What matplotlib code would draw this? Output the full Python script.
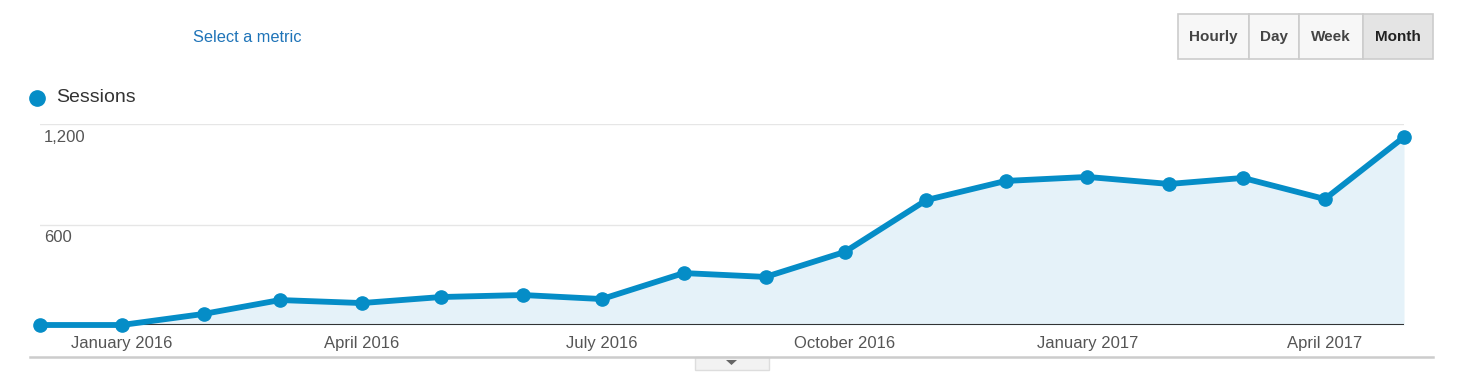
import matplotlib
matplotlib.use("Agg")
import matplotlib.pyplot as plt
import pandas as pd
import matplotlib.dates as mdates
from matplotlib.patches import Rectangle, Polygon
from matplotlib.lines import Line2D

plt.rcParams["font.family"] = ["Liberation Sans", "DejaVu Sans"]

# monthly sessions, Dec 2015 .. May 2017
months = ["2015-12", "2016-01", "2016-02", "2016-03", "2016-04", "2016-05",
          "2016-06", "2016-07", "2016-08", "2016-09", "2016-10", "2016-11",
          "2016-12", "2017-01", "2017-02", "2017-03", "2017-04", "2017-05"]
sessions = [0, 0, 66, 149, 131, 167, 179, 155, 310, 287, 436, 746,
            860, 884, 842, 878, 752, 1122]
tick_months = ["2016-01", "2016-04", "2016-07", "2016-10", "2017-01", "2017-04"]
tick_labels = ["January 2016", "April 2016", "July 2016", "October 2016",
               "January 2017", "April 2017"]
y_ticks = [600, 1200]
y_labels = ["600", "1,200"]
buttons = ["Hourly", "Day", "Week", "Month"]

LINE = "#058dc7"
FILL = "#e5f2f9"
W, H = 1462, 384

fig = plt.figure(figsize=(W / 100, H / 100), dpi=100)

def fx(px):
    return px / W

def fy(py):
    return 1 - py / H

ax = fig.add_axes([fx(40), fy(325), fx(1404) - fx(40), fy(124) - fy(325)])
x = pd.to_datetime(months)
ax.fill_between(x, sessions, 0, color=FILL, lw=0, zorder=1)
for yv in y_ticks:
    ax.axhline(yv, color="#e6e6e6", lw=1, zorder=0.5)
ax.plot(x, sessions, color=LINE, lw=4.2, marker="o", ms=9.5,
        solid_joinstyle="round", clip_on=False, zorder=3)
ax.axhline(0, color="#333333", lw=1.5, zorder=2)
ax.set_xlim(x[0], x[-1])
ax.set_ylim(0, 1200)
for s in ax.spines.values():
    s.set_visible(False)
ax.set_yticks([])
ax.set_xticks(pd.to_datetime(tick_months))
ax.set_xticklabels(tick_labels, fontsize=12, color="#555555")
ax.tick_params(axis="x", length=0, pad=8)

for yv, lab in zip(y_ticks, y_labels):
    ax.annotate(lab, xy=(0, yv), xycoords=("axes fraction", "data"),
                xytext=(4, -6), textcoords="offset pixels",
                ha="left", va="top", fontsize=12, color="#555555")

# legend
fig.add_artist(Line2D([fx(37)], [fy(98)], marker="o", ms=11, color=LINE,
                      transform=fig.transFigure))
fig.text(fx(56), fy(98), "Sessions", fontsize=14, color="#333333",
         va="center", ha="left")

fig.text(fx(193), fy(37), "Select a metric", fontsize=11.8, color="#1f74b8",
         va="center", ha="left")

# period buttons
edges = [1178, 1249, 1299, 1363, 1433]
for i, lab in enumerate(buttons):
    x0, x1 = edges[i], edges[i + 1]
    face = "#e4e4e4" if lab == "Month" else "#f7f7f7"
    fig.add_artist(Rectangle((fx(x0), fy(59)), fx(x1) - fx(x0), fy(14) - fy(59),
                             transform=fig.transFigure, facecolor=face,
                             edgecolor="#cccccc", lw=1.2))
    fig.text(fx((x0 + x1) / 2), fy(37), lab, fontsize=11, fontweight="bold",
             color="#222222" if lab == "Month" else "#444444",
             ha="center", va="center")

# bottom rule and collapse tab
fig.add_artist(Line2D([fx(30), fx(1433)], [fy(357), fy(357)], color="#cccccc",
                      lw=1.8, transform=fig.transFigure))
fig.add_artist(Rectangle((fx(695), fy(370)), fx(769) - fx(695), fy(357) - fy(370),
                         transform=fig.transFigure, facecolor="#f2f2f2",
                         edgecolor="#dddddd", lw=1))
fig.add_artist(Polygon([(fx(726), fy(360)), (fx(737), fy(360)), (fx(731.5), fy(365))],
                       closed=True, transform=fig.transFigure,
                       facecolor="#666666", edgecolor="none"))

fig.savefig("out.png", dpi=100, facecolor="white")
